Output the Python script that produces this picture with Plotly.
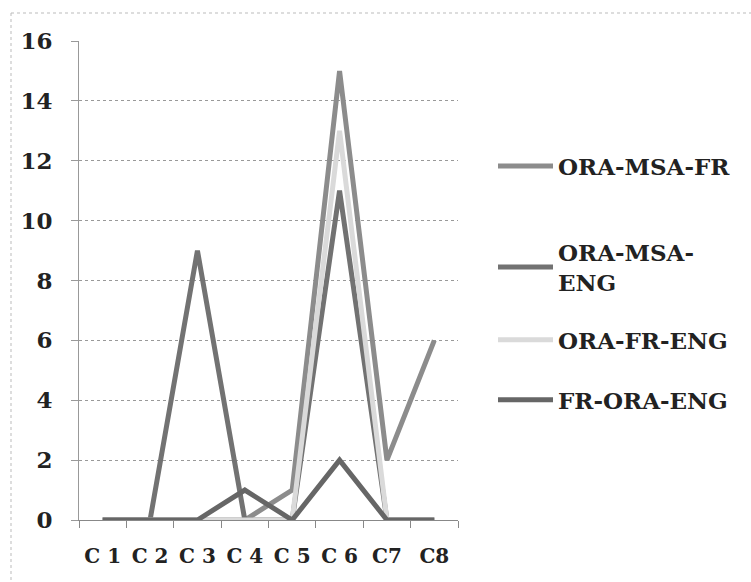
import plotly.graph_objects as go

categories = ["C 1", "C 2", "C 3", "C 4", "C 5", "C 6", "C7", "C8"]
series_names = ["ORA-MSA-FR", "ORA-MSA-<br>ENG", "ORA-FR-ENG", "FR-ORA-ENG"]
ora_msa_fr = [0, 0, 0, 0, 1, 15, 2, 6]
ora_msa_eng = [0, 0, 9, 0, 0, 11, 0, 0]
ora_fr_eng = [0, 0, 0, 0, 0, 13, 0, 0]
fr_ora_eng = [0, 0, 0, 1, 0, 2, 0, 0]
y_ticks = [0, 2, 4, 6, 8, 10, 12, 14, 16]

series = [ora_msa_fr, ora_msa_eng, ora_fr_eng, fr_ora_eng]
colors = ["#8c8c8c", "#727272", "#dadada", "#666666"]
legend_ids = ["legend", "legend2", "legend3", "legend4"]
legend_y = [0.739, 0.528, 0.376, 0.251]

W, H = 751, 582
L, R, T, B = 79, 293, 41, 62
pw, ph = W - L - R, H - T - B

SERIF = "DejaVu Serif"
TEXT = "#222222"

fig = go.Figure()
for name, vals, col, lg in zip(series_names, series, colors, legend_ids):
    fig.add_trace(go.Scatter(
        x=categories, y=vals, mode="lines", name=name,
        line=dict(color=col, width=5),
        legend=lg,
    ))

legend_common = dict(
    x=(493 - L) / pw, xanchor="left", yanchor="middle",
    font=dict(family=SERIF, size=23, color=TEXT, weight="bold"),
    bgcolor="rgba(0,0,0,0)", itemwidth=55, borderwidth=0,
)

fig.update_layout(
    width=W, height=H,
    margin=dict(l=L, r=R, t=T, b=B, autoexpand=False),
    paper_bgcolor="white", plot_bgcolor="white",
    showlegend=True,
    legend=dict(y=legend_y[0], **legend_common),
    legend2=dict(y=legend_y[1], **legend_common),
    legend3=dict(y=legend_y[2], **legend_common),
    legend4=dict(y=legend_y[3], **legend_common),
    xaxis=dict(
        type="category", range=[-0.5, 7.5],
        tickson="boundaries", ticks="outside", ticklen=7, tickcolor="#888",
        showline=True, linecolor="#888", linewidth=1,
        showgrid=False, zeroline=False, automargin=False,
        tickangle=0,
        tickfont=dict(family=SERIF, size=20, color=TEXT, weight="bold"),
        ticklabelstandoff=18,
    ),
    yaxis=dict(
        range=[0, 16], tickvals=y_ticks,
        ticks="outside", ticklen=7, tickcolor="#999",
        showline=True, linecolor="#999", linewidth=1,
        showgrid=True, gridcolor="#999", griddash="dot", gridwidth=1,
        zeroline=False, automargin=False,
        tickfont=dict(family=SERIF, size=23, color=TEXT, weight="bold"),
        ticklabelstandoff=14,
    ),
)

# Dotted frame around the chart
x0 = (11 - L) / pw
y0 = (H - B - 13) / ph
fig.add_shape(type="line", xref="paper", yref="paper", x0=x0, x1=(W - L) / pw, y0=y0, y1=y0,
              line=dict(color="#bbb", width=1, dash="dot"))
fig.add_shape(type="line", xref="paper", yref="paper", x0=x0, x1=x0, y0=y0, y1=-B / ph,
              line=dict(color="#bbb", width=1, dash="dot"))

fig.write_html("out.html")
